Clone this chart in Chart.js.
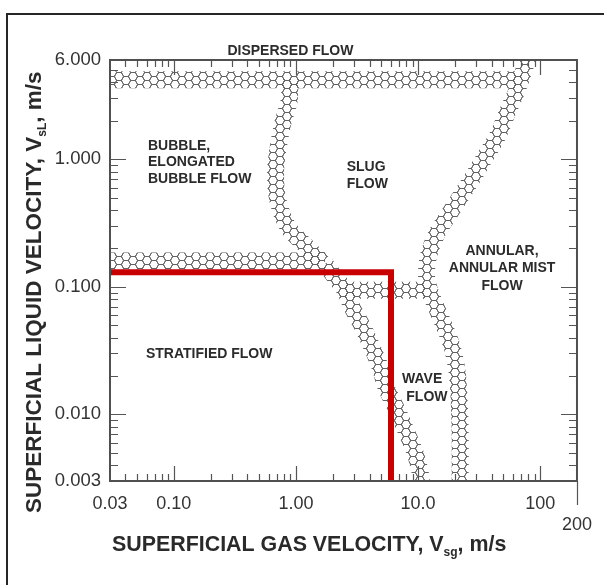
<!DOCTYPE html>
<html>
<head>
<meta charset="utf-8">
<title>Flow regime map</title>
<script src="https://cdn.jsdelivr.net/npm/chart.js@4.4.1/dist/chart.umd.min.js"></script>
<style>
  html, body { margin: 0; padding: 0; background: #fff; }
  #wrap { position: relative; width: 604px; height: 585px; overflow: hidden; }
  #frame { position: absolute; left: 6px; top: 13px; width: 700px; height: 700px;
           border-left: 2px solid #262626; border-top: 2px solid #262626; }
  #c { position: absolute; left: 0; top: 0; }
</style>
</head>
<body>
<div id="wrap">
  <div id="frame"></div>
  <canvas id="c" width="604" height="585"></canvas>
</div>
<script>
// Regime boundaries: superficial gas velocity Vsg and liquid velocity VsL (m/s)
const dispersedVsg = [0.03, 70];
const dispersedVsl = [4.2, 4.2];

const bubbleSlugVsg = [0.89, 0.88, 0.78, 0.71, 0.68, 0.71, 0.86, 1.19, 1.64];
const bubbleSlugVsl = [4.3, 2.91, 1.92, 1.18, 0.78, 0.48, 0.294, 0.212, 0.156];

const stratifiedVsg = [0.03, 1.73];
const stratifiedVsl = [0.159, 0.159];

const waveVsg = [1.73, 2.09, 2.52, 2.88, 3.54, 4.28, 4.88, 5.46, 6.73, 8.12, 9.44, 10.4, 10.8];
const waveVsl = [0.151, 0.119, 0.094, 0.069, 0.048, 0.032, 0.0235, 0.0163, 0.0108, 0.0071, 0.005, 0.0035, 0.0027];

const waveTopVsg = [2.3, 12.0];
const waveTopVsl = [0.094, 0.094];

const annularVsg = [78, 75, 64.7, 53.5, 44.3, 34.1, 28.2, 22.1, 17.3, 14.3, 12.1, 11.8, 13.3, 16.0, 19.0, 20.9, 21.7, 22.1, 22.1];
const annularVsl = [6.3, 5.29, 3.49, 2.30, 1.49, 0.986, 0.725, 0.505, 0.352, 0.264, 0.171, 0.113, 0.0787, 0.0519, 0.0337, 0.0211, 0.0129, 0.0071, 0.0028];

// Operating envelope (red)
const operatingVsg = [0.03, 6, 6];
const operatingVsl = [0.13, 0.13, 0.003];

// Axis ticks
const xTickValues = [0.03, 0.1, 1, 10, 100, 200];
const xTickLabels = ['0.03', '0.10', '1.00', '10.0', '100', '200'];
const yTickValues = [0.003, 0.01, 0.1, 1, 6];
const yTickLabels = ['0.003', '0.010', '0.100', '1.000', '6.000'];
const xMajorInner = [0.1, 1, 10, 100];
const yMajorInner = [0.01, 0.1, 1];

// Regime names, anchored in (Vsg, VsL)
const regimeLabels = [
  { text: 'DISPERSED FLOW', vsg: 0.9, vsl: 7.0, align: 'center' },
  { text: 'BUBBLE,', vsg: 0.0614, vsl: 1.27, align: 'left' },
  { text: 'ELONGATED', vsg: 0.0614, vsl: 0.942, align: 'left' },
  { text: 'BUBBLE FLOW', vsg: 0.0614, vsl: 0.70, align: 'left' },
  { text: 'SLUG', vsg: 2.6, vsl: 0.861, align: 'left' },
  { text: 'FLOW', vsg: 2.6, vsl: 0.639, align: 'left' },
  { text: 'ANNULAR,', vsg: 48.7, vsl: 0.191, align: 'center' },
  { text: 'ANNULAR MIST', vsg: 48.7, vsl: 0.139, align: 'center' },
  { text: 'FLOW', vsg: 48.7, vsl: 0.101, align: 'center' },
  { text: 'STRATIFIED FLOW', vsg: 0.0591, vsl: 0.0297, align: 'left' },
  { text: 'WAVE', vsg: 10.8, vsl: 0.0189, align: 'center' },
  { text: 'FLOW', vsg: 11.8, vsl: 0.01365, align: 'center' }
];

const SANS = "'Liberation Sans', Arial, Helvetica, sans-serif";
const zip = (xs, ys) => xs.map((x, i) => ({ x: x, y: ys[i] }));

const canvas = document.getElementById('c');
const ctx2d = canvas.getContext('2d');

// Honeycomb strip used to stroke the regime boundaries
function honeycombPattern() {
  const tile = document.createElement('canvas');
  tile.width = 14; tile.height = 8;
  const g = tile.getContext('2d');
  g.strokeStyle = '#626262';
  g.lineWidth = 1;
  const s = 14 / 3, h = 4;
  const centres = [[0, 0.5], [14, 0.5], [0, 8.5], [14, 8.5], [7, 4.5], [7, -3.5], [7, 12.5]];
  g.beginPath();
  centres.forEach(([cx, cy]) => {
    g.moveTo(cx + s, cy);
    g.lineTo(cx + s / 2, cy + h);
    g.lineTo(cx - s / 2, cy + h);
    g.lineTo(cx - s, cy);
    g.lineTo(cx - s / 2, cy - h);
    g.lineTo(cx + s / 2, cy - h);
    g.closePath();
  });
  g.stroke();
  return ctx2d.createPattern(tile, 'repeat');
}
const honeycomb = honeycombPattern();

function minorTicks(min, max, majors) {
  const out = [];
  for (let d = -3; d <= 2; d++) {
    for (let m = 2; m <= 9; m++) {
      const v = m * Math.pow(10, d);
      if (v > min * 1.0001 && v < max * 0.9999 && !majors.some(t => Math.abs(t - v) / t < 1e-6)) out.push(v);
    }
  }
  return out;
}

// Inward tick marks on all four sides, plus the plot frame
const frameTicks = {
  id: 'frameTicks',
  beforeDatasetsDraw(chart) {
    const { ctx, chartArea: a, scales: { x, y } } = chart;
    ctx.save();
    ctx.strokeStyle = '#555';
    ctx.lineWidth = 1.2;
    ctx.beginPath();
    const xm = minorTicks(0.03, 200, xMajorInner);
    const ym = minorTicks(0.003, 6, yMajorInner);
    const vx = (v, len) => {
      const px = Math.round(x.getPixelForValue(v)) + 0.5;
      ctx.moveTo(px, a.bottom); ctx.lineTo(px, a.bottom - len);
      ctx.moveTo(px, a.top); ctx.lineTo(px, a.top + len);
    };
    const hy = (v, len) => {
      const py = Math.round(y.getPixelForValue(v)) + 0.5;
      ctx.moveTo(a.left, py); ctx.lineTo(a.left + len, py);
      ctx.moveTo(a.right, py); ctx.lineTo(a.right - len, py);
    };
    xm.forEach(v => vx(v, 7));
    xMajorInner.forEach(v => vx(v, 15));
    ym.forEach(v => hy(v, 8));
    yMajorInner.forEach(v => hy(v, 16));
    // end tick for 200, hanging below the axis
    const p200 = Math.round(x.getPixelForValue(200)) + 0.5;
    ctx.moveTo(p200, a.bottom); ctx.lineTo(p200, a.bottom + 24);
    ctx.stroke();
    ctx.restore();
  },
  afterDatasetsDraw(chart) {
    const { ctx, chartArea: a } = chart;
    ctx.save();
    ctx.strokeStyle = '#505050';
    ctx.lineWidth = 2;
    ctx.strokeRect(a.left, a.top, a.right - a.left, a.bottom - a.top);
    ctx.restore();
  }
};

function drawWithSubscript(ctx, parts, size, subSize, subDrop) {
  let cx = 0;
  parts.forEach(p => {
    ctx.font = 'bold ' + (p.sub ? subSize : size) + 'px ' + SANS;
    ctx.fillText(p.t, cx, p.sub ? subDrop : 0);
    cx += ctx.measureText(p.t).width;
  });
}

// Regime names and axis titles
const annotations = {
  id: 'annotations',
  afterDraw(chart) {
    const { ctx, scales: { x, y } } = chart;
    ctx.save();
    ctx.fillStyle = '#2b2b2b';
    ctx.font = 'bold 14px ' + SANS;
    ctx.textBaseline = 'middle';
    regimeLabels.forEach(l => {
      ctx.textAlign = l.align;
      ctx.fillText(l.text, x.getPixelForValue(l.vsg), y.getPixelForValue(l.vsl));
    });

    ctx.fillStyle = '#2a2a2a';
    ctx.textAlign = 'left';
    ctx.textBaseline = 'alphabetic';
    // x-axis title
    ctx.save();
    ctx.translate(112, 551);
    drawWithSubscript(ctx, [
      { t: 'SUPERFICIAL GAS VELOCITY, V' }, { t: 'sg', sub: true }, { t: ', m/s' }
    ], 21.4, 12, 5);
    ctx.restore();
    // y-axis title
    ctx.save();
    ctx.translate(41, 513);
    ctx.rotate(-Math.PI / 2);
    drawWithSubscript(ctx, [
      { t: 'SUPERFICIAL LIQUID VELOCITY, V' }, { t: 'sL', sub: true }, { t: ', m/s' }
    ], 22.5, 12, 5);
    ctx.restore();
    ctx.restore();
  }
};

const boundary = (xs, ys, name) => ({
  label: name,
  data: zip(xs, ys),
  borderColor: honeycomb,
  borderWidth: 17,
  tension: 0.3,
  borderJoinStyle: 'round',
  borderCapStyle: 'butt',
  clip: 0,
  order: 1
});

new Chart(canvas, {
  type: 'line',
  data: {
    datasets: [
      {
        label: 'Operating range',
        data: zip(operatingVsg, operatingVsl),
        borderColor: '#c80000',
        borderWidth: 6,
        tension: 0,
        borderJoinStyle: 'miter',
        borderCapStyle: 'butt',
        clip: 0,
        order: 0
      },
      boundary(dispersedVsg, dispersedVsl, 'Dispersed'),
      boundary(bubbleSlugVsg, bubbleSlugVsl, 'Bubble / slug'),
      boundary(stratifiedVsg, stratifiedVsl, 'Stratified'),
      boundary(waveVsg, waveVsl, 'Wave'),
      boundary(waveTopVsg, waveTopVsl, 'Wave / slug'),
      boundary(annularVsg, annularVsl, 'Annular')
    ]
  },
  options: {
    responsive: false,
    animation: false,
    devicePixelRatio: 1,
    layout: { padding: { top: 60, right: 27, left: 0, bottom: 0 } },
    elements: { point: { radius: 0, hoverRadius: 0 } },
    plugins: { legend: { display: false }, tooltip: { enabled: false } },
    scales: {
      x: {
        type: 'logarithmic',
        position: 'bottom',
        min: 0.03,
        max: 200,
        grid: { display: false, drawTicks: false },
        border: { display: false },
        afterBuildTicks: s => { s.ticks = xTickValues.map(v => ({ value: v })); },
        afterFit: s => { s.height = 104; },
        ticks: {
          autoSkip: false,
          maxRotation: 0,
          minRotation: 0,
          padding: 12,
          color: '#333',
          font: { family: SANS, size: 18 },
          callback: (v, i) => i === xTickValues.length - 1 ? ['', xTickLabels[i]] : xTickLabels[i]
        }
      },
      y: {
        type: 'logarithmic',
        position: 'left',
        min: 0.003,
        max: 6,
        grid: { display: false, drawTicks: false },
        border: { display: false },
        afterBuildTicks: s => { s.ticks = yTickValues.map(v => ({ value: v })); },
        afterFit: s => { s.width = 110; },
        ticks: {
          autoSkip: false,
          padding: 9,
          color: '#333',
          font: { family: SANS, size: 18.5 },
          callback: (v, i) => yTickLabels[i]
        }
      }
    }
  },
  plugins: [frameTicks, annotations]
});
</script>
</body>
</html>
